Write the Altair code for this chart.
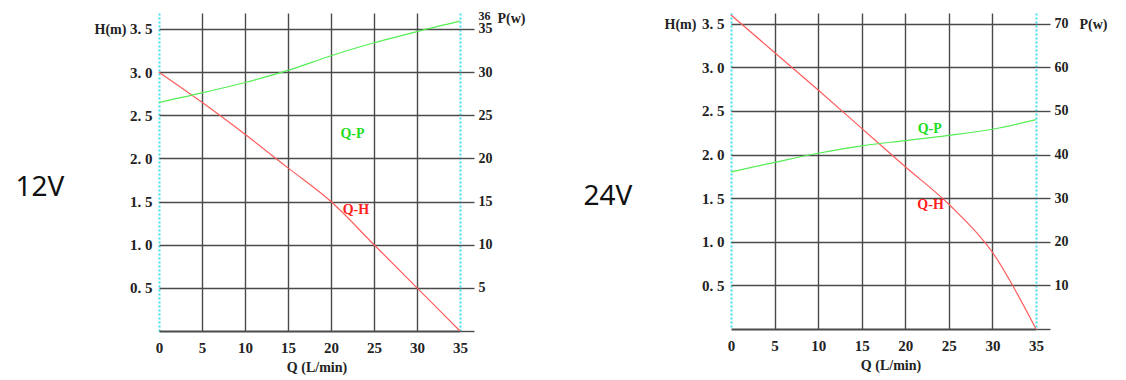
import altair as alt
import pandas as pd

# ---------------- data ----------------
q = [0, 5, 10, 15, 20, 25, 30, 35]
h_12v = [3.0, 2.65, 2.28, 1.89, 1.5, 1.0, 0.5, 0.0]
p_12v = [26.5, 27.6, 28.8, 30.2, 31.9, 33.4, 34.7, 35.9]
h_24v = [3.6, 3.17, 2.74, 2.3, 1.86, 1.43, 0.88, 0.0]
p_24v = [36.0, 38.2, 40.3, 42.0, 43.2, 44.4, 45.8, 48.0]

q_ticks = [0, 5, 10, 15, 20, 25, 30, 35]
h_ticks = [0.5, 1.0, 1.5, 2.0, 2.5, 3.0, 3.5]
p_ticks_12v = [0, 5, 10, 15, 20, 25, 30, 35, 36]
p_ticks_24v = [0, 10, 20, 30, 40, 50, 60, 70]

label_text = ["Q-P", "Q-H"]
label_q_12v = [22.5, 22.9]
label_h_12v = [2.28, 1.40]
label_q_24v = [22.8, 22.9]
label_h_24v = [2.29, 1.42]

RED = "#ff5c5c"
GREEN = "#55ee55"
LABEL_RED = "#ff2020"
LABEL_GREEN = "#22dd22"
GRID = "#4a4a4a"
CYAN = "#40e0f0"
FONT = "Liberation Serif"


def panel(h_vals, p_vals, h_max, p_max, p_ticks, width, height, volt, lab_q, lab_h,
          volt_x, volt_y, htitle_x, htitle_y, ptitle_x, ptitle_y):
    df = pd.DataFrame({"Q": q, "H": h_vals, "P": p_vals})
    xscale = alt.Scale(domain=[0, 35], nice=False)
    hscale = alt.Scale(domain=[0, h_max], nice=False)
    pscale = alt.Scale(domain=[0, p_max], nice=False)
    edge = "datum.value == 0 || datum.value == 35"
    top_extra = "datum.value == 36"

    x_axis = alt.Axis(
        values=q_ticks, title="Q (L/min)", grid=True,
        gridColor={"condition": {"test": edge, "value": CYAN}, "value": GRID},
        gridDash={"condition": {"test": edge, "value": [2, 2]}, "value": []},
        gridWidth={"condition": {"test": edge, "value": 2}, "value": 1.4},
        gridOpacity=1, tickSize=0, domainColor=GRID, domainWidth=2,
        labelFlush=False, labelPadding=9, labelFont=FONT, labelFontWeight="bold",
        labelFontSize=15, labelColor="#222", titleFont=FONT, titleFontWeight="bold",
        titleFontSize=14, titleColor="#222", titlePadding=5, titleX=width / 2 + 7,
    )
    h_axis = alt.Axis(
        values=h_ticks, format=".1f", labelExpr="replace(datum.label, '.', '. ')",
        title="H(m)", grid=True, gridColor=GRID, labelFlush=False,
        gridWidth=1.4, gridOpacity=1, tickSize=0, domain=False, labelPadding=7,
        labelFont=FONT, labelFontWeight="bold", labelFontSize=15, labelColor="#222",
        titleAngle=0, titleAlign="left", titleBaseline="middle",
        titleX=htitle_x, titleY=htitle_y, titleFont=FONT, titleFontWeight="bold",
        titleFontSize=14, titleColor="#222",
    )
    p_axis = alt.Axis(
        values=p_ticks, orient="right", title="P(w)", grid=False, domain=False,
        tickSize=14, tickColor=GRID, tickWidth=1.4, labelFlush=False,
        tickOpacity={"condition": {"test": top_extra, "value": 0}, "value": 1},
        labelOffset={"condition": {"test": top_extra, "value": -5}, "value": 0},
        labelFontSize={"condition": {"test": top_extra, "value": 12}, "value": 14},
        labelExpr="datum.value == 0 ? '' : datum.label", labelOverlap=False,
        labelBound=False, labelPadding=4, labelFont=FONT, labelFontWeight="bold",
        labelColor="#222",
        titleAngle=0, titleAlign="left", titleBaseline="middle",
        titleX=ptitle_x, titleY=ptitle_y, titleFont=FONT, titleFontWeight="bold",
        titleFontSize=14, titleColor="#222",
    )

    x_enc = alt.X("Q:Q", scale=xscale, axis=x_axis)
    h_line = alt.Chart(df).mark_line(color=RED, strokeWidth=1.2, interpolate="monotone").encode(
        x=x_enc,
        y=alt.Y("H:Q", scale=hscale, axis=h_axis),
    )
    p_line = alt.Chart(df).mark_line(color=GREEN, strokeWidth=1.2, interpolate="monotone").encode(
        x=x_enc,
        y=alt.Y("P:Q", scale=pscale, axis=p_axis),
    )
    lab_df = pd.DataFrame({"t": label_text, "Q": lab_q, "H": lab_h})
    labels = alt.Chart(lab_df).mark_text(font=FONT, fontWeight="bold", fontSize=14).encode(
        x=x_enc,
        y=alt.Y("H:Q", scale=hscale, axis=None),
        text="t:N",
        color=alt.Color("t:N", scale=alt.Scale(domain=label_text, range=[LABEL_GREEN, LABEL_RED]), legend=None),
    )
    volt_df = pd.DataFrame({"v": [volt]})
    volt_txt = alt.Chart(volt_df).mark_text(font="Noto Sans", fontSize=28, color="#111").encode(
        text="v:N", x=alt.value(volt_x), y=alt.value(volt_y),
    )
    return alt.layer(h_line, p_line, labels, volt_txt).resolve_scale(
        y="independent", color="independent"
    ).properties(width=width, height=height)


left = panel(h_12v, p_12v, 3.685, 36.85, p_ticks_12v, 301, 318, "12V", label_q_12v, label_h_12v,
             -119, 175, -65, 16, 37, 5)
right = panel(h_24v, p_24v, 3.623, 72.46, p_ticks_24v, 305, 316, "24V", label_q_24v, label_h_24v,
              -123, 184, -67, 11, 43, 11)

chart = alt.hconcat(left, right, spacing=271, bounds="flush").configure_view(stroke=None).properties(
    padding={"left": 7, "top": 1, "right": 5, "bottom": 5}, background="white"
)

chart.save("out.html", embed_options={"renderer": "svg", "actions": False})
